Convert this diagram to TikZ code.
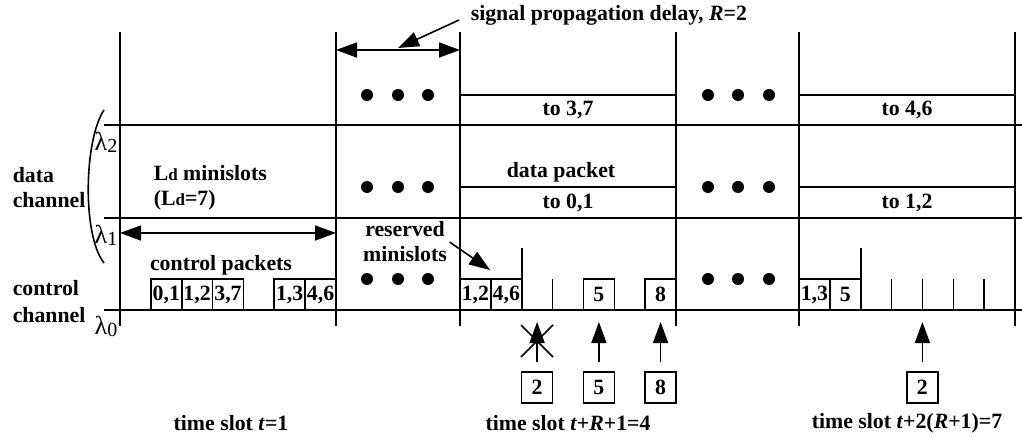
\documentclass[tikz,border=0pt]{standalone}
\usepackage{fontspec}
\setmainfont{Liberation Serif}
\usetikzlibrary{arrows.meta}
\begin{document}
\begin{tikzpicture}[x=0.5pt,y=-0.5pt, line width=0.8pt,
  every node/.style={font=\fontsize{10.9}{12.5}\selectfont\bfseries},
  pk/.style={draw, inner sep=0pt, minimum width=15.43pt, minimum height=15.5pt},
  dbox/.style={draw, inner sep=0pt, minimum width=108pt, minimum height=15.25pt},
  lam/.style={font=\fontsize{13}{13}\selectfont, inner sep=0pt},
  txt/.style={inner sep=0pt, align=left},
  arr/.style={-{Triangle[length=10.5pt,width=7.5pt]}},
  dbl/.style={{Triangle[length=10.5pt,width=7.5pt]}-{Triangle[length=10.5pt,width=7.5pt]}}
]
\useasboundingbox (0,0) rectangle (1022,438);
% grid
\foreach \x in {120,336,460,676,799,1015} \draw (\x,32) -- (\x,326);
\foreach \y in {125,218,310} \draw (104,\y) -- (1022,\y);
% brace
\draw (104,110) .. controls (84,140) and (82,235) .. (104,263);
% lambdas
\node[lam] (l2) at (106,142) {λ\raisebox{-1pt}{\fontsize{10}{10}\selectfont 2}};
\node[lam] (l1) at (106,235) {λ\raisebox{-1pt}{\fontsize{10}{10}\selectfont 1}};
\node[lam] (l0) at (106,326) {λ\raisebox{-1pt}{\fontsize{10}{10}\selectfont 0}};
% left labels
\node[txt, anchor=west] (dch) at (12,187.5) {data\\channel};
\node[txt, anchor=west, font=\fontsize{10.9}{13.5}\selectfont\bfseries] (cch) at (12,301.5) {control\\channel};
\node[txt, anchor=west] (ld) at (153,187.5) {L{\fontsize{8.5}{9}\selectfont d} minislots\\(L{\fontsize{8.5}{9}\selectfont d}=7)};
% Ld arrow
\coordinate (la) at (120,233);
\coordinate (lb) at (336,233);
\draw[dbl] (la) -- (lb);
\node (cpk) at (221,265) {control packets};
% control packets slot 1
\node[pk] (c01) at (166.3,294.5) {0,1};
\node[pk] (c12) at (197.1,294.5) {1,2};
\node[pk] (c37) at (228.0,294.5) {3,7};
\node[pk] (c13) at (289.7,294.5) {1,3};
\node[pk] (c46) at (320.6,294.5) {4,6};
% propagation delay
\coordinate (pa) at (336,50);
\coordinate (pb) at (460,50);
\draw[dbl] (pa) -- (pb);
\node[anchor=west, inner sep=0pt] (spd) at (470,15) {signal propagation delay, \textit{R}=2};
\coordinate (pt) at (398,48);
\draw[arr, shorten <=6pt] (spd.west) -- (pt);
% dots
\foreach \x in {367,398,428,708,738,769}
  \foreach \y in {95,187,279} \fill (\x,\y) circle (3pt);
% data packets
\node[dbox] (t37) at (568,110) {to 3,7};
\node[dbox] (t01) at (568,202.5) {to 0,1};
\node (dp) at (561,172) {data packet};
\node[dbox] (t46) at (907,110) {to 4,6};
\node[dbox] (t12) at (907,202.5) {to 1,2};
% control slot 3
\node[pk] (s12) at (475.4,294.5) {1,2};
\node[pk] (s46) at (506.3,294.5) {4,6};
\draw (521.7,248) -- (521.7,310);
\draw (552.6,279) -- (552.6,310);
\node[pk] (s5) at (598.9,294.5) {5};
\node[pk] (s8) at (660.6,294.5) {8};
\node[align=center, inner sep=1pt] (rm) at (405,242) {reserved\\minislots};
\coordinate (rmt) at (490,270);
\draw[arr] (rm.east) -- (rmt);
% control slot 5
\node[pk] (r13) at (814.4,294.5) {1,3};
\node[pk] (r5) at (845.3,294.5) {5};
\draw (860.7,248) -- (860.7,310);
\foreach \x in {891.6,922.4,953.3,984.1} \draw (\x,279) -- (\x,310);
% bottom boxes and arrows
\node[pk] (b2) at (537.1,387.5) {2};
\node[pk] (b5) at (598.9,387.5) {5};
\node[pk] (b8) at (660.6,387.5) {8};
\node[pk] (bb2) at (922.4,387.5) {2};
\coordinate (u2) at (537.1,322);
\coordinate (u5) at (598.9,322);
\coordinate (u8) at (660.6,322);
\coordinate (uu2) at (922.4,322);
\draw[arr, shorten <=4.5pt] (b2) -- (u2);
\draw[arr, shorten <=4.5pt] (b5) -- (u5);
\draw[arr, shorten <=4.5pt] (b8) -- (u8);
\draw[arr, shorten <=4.5pt] (bb2) -- (uu2);
\draw (521,325) -- (553,357);
\draw (553,325) -- (521,357);
% time slot labels
\node (ts1) at (231,423) {time slot \textit{t}=1};
\node (ts4) at (568,423) {time slot \textit{t}+\textit{R}+1=4};
\node (ts7) at (907,423) {time slot \textit{t}+2(\textit{R}+1)=7};
\end{tikzpicture}
\end{document}
